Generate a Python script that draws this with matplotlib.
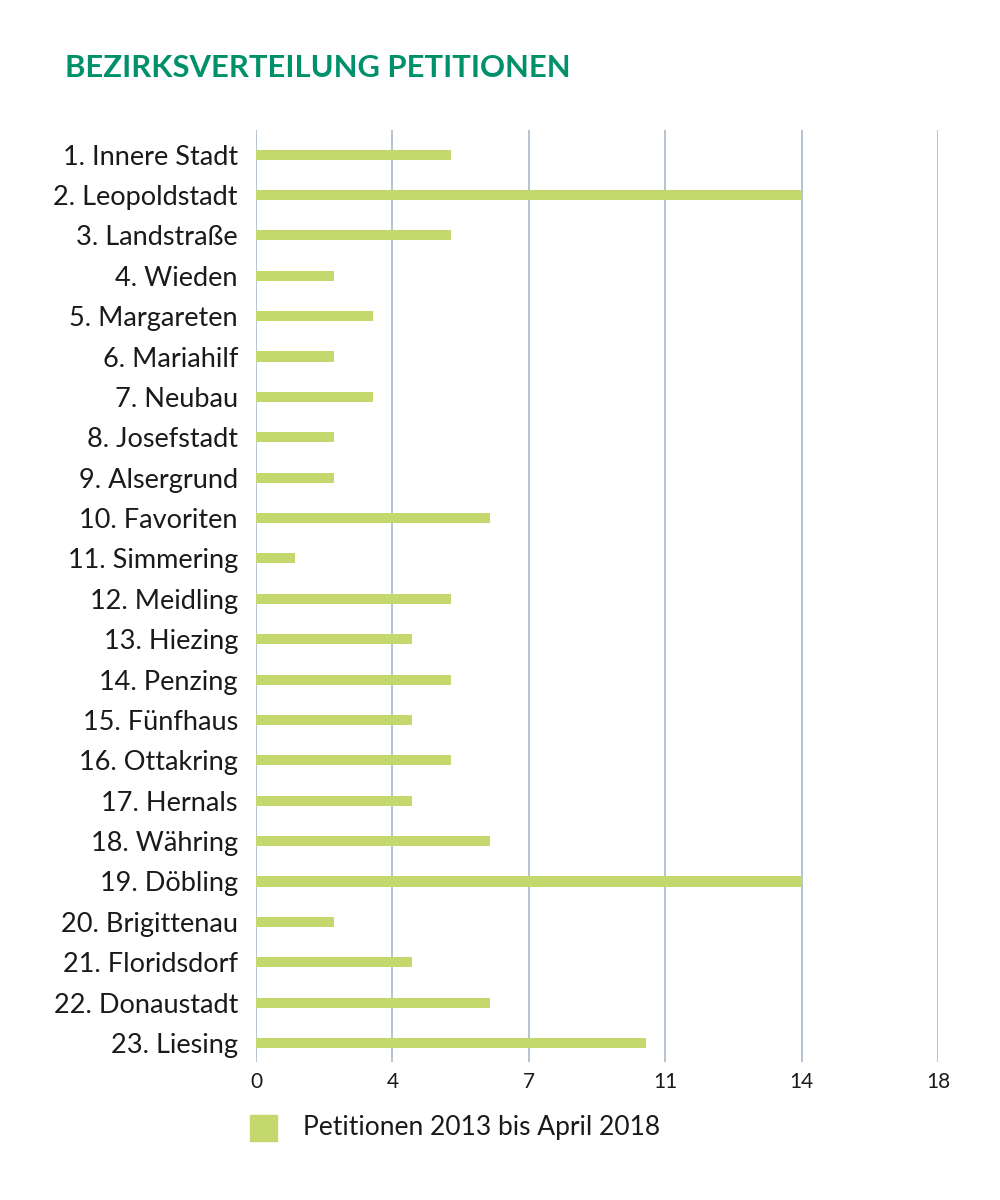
import matplotlib.pyplot as plt
import numpy as np

plt.rcParams['font.family'] = ['Lato', 'DejaVu Sans']

districts = ['1. Innere Stadt', '2. Leopoldstadt', '3. Landstraße', '4. Wieden',
             '5. Margareten', '6. Mariahilf', '7. Neubau', '8. Josefstadt',
             '9. Alsergrund', '10. Favoriten', '11. Simmering', '12. Meidling',
             '13. Hiezing', '14. Penzing', '15. Fünfhaus', '16. Ottakring',
             '17. Hernals', '18. Währing', '19. Döbling', '20. Brigittenau',
             '21. Floridsdorf', '22. Donaustadt', '23. Liesing']
petitions = [5, 14, 5, 2, 3, 2, 3, 2, 2, 6, 1, 5, 4, 5, 4, 5, 4, 6, 14, 2, 4, 6, 10]
tick_pos = [0, 3.5, 7, 10.5, 14, 17.5]
tick_labels = ['0', '4', '7', '11', '14', '18']
series_label = 'Petitionen 2013 bis April 2018'

bar_color = '#c5d86d'
grid_color = '#a9b8c8'

fig = plt.figure(figsize=(10, 12), dpi=100)
ax = fig.add_axes([0.256, 0.115, 0.682, 0.777])

y = np.arange(len(districts))
ax.barh(y, petitions, height=0.25, color=bar_color, zorder=3)

ax.set_xlim(0, 17.5)
ax.set_ylim(len(districts) - 1 + 0.47, -0.62)
ax.set_xticks(tick_pos)
ax.set_xticklabels(tick_labels, fontsize=15, color='#1a1a1a')
ax.set_yticks(y)
ax.set_yticklabels(districts, fontsize=19.5, color='#1a1a1a')
ax.tick_params(length=0, pad=13, axis='y')
ax.tick_params(length=0, pad=7, axis='x')
for xv in tick_pos:
    ax.axvline(xv, color=grid_color, lw=1.2, zorder=1)
for s in ax.spines.values():
    s.set_visible(False)

fig.text(0.065, 0.943, 'BEZIRKSVERTEILUNG PETITIONEN', fontsize=22.3,
         fontweight='bold', color='#00906a', va='center', ha='left')

fig.patches.append(plt.Rectangle((0.250, 1 - 1141 / 1200), 0.027, 26 / 1200,
                                 transform=fig.transFigure, color=bar_color))
fig.text(0.303, 1 - 1128 / 1200, series_label, fontsize=19, color='#1a1a1a',
         va='center', ha='left')

fig.savefig('out.png', dpi=100, facecolor='white')
